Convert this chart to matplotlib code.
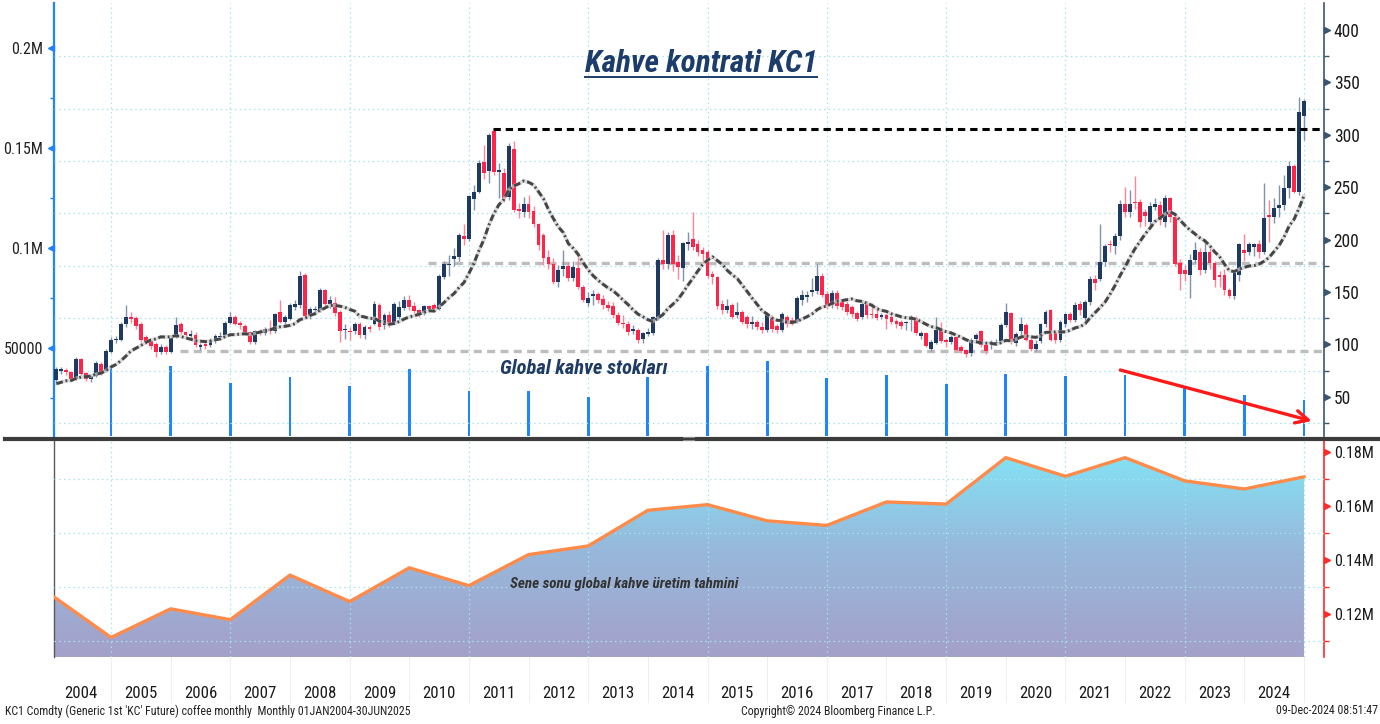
import numpy as np
import pandas as pd
import matplotlib
matplotlib.use("Agg")
import matplotlib.pyplot as plt
from matplotlib import font_manager as fm
from matplotlib.lines import Line2D
from matplotlib.colors import LinearSegmentedColormap
from matplotlib.ticker import FixedLocator, FuncFormatter
import matplotlib.transforms as mtransforms

# ---------------------------------------------------------------- data
# KC1 monthly candles, Jan 2004 .. Dec 2024 (one row per year)
opens = [
    66, 75, 75.8, 74, 67, 86, 73, 66.5, 70, 81, 75, 92.7,
    103.8, 104.4, 119, 126, 125.5, 119.7, 107, 102.9, 100.6, 92.7, 97.4, 92.7,
    107, 119.7, 111.8, 108, 108.6, 97.4, 100.6, 99, 102.9, 106.7, 108.6, 120.4,
    126.1, 120.4, 117.5, 111.8, 102.2, 113, 110.5, 115, 112.6, 130.8, 121, 124.5,
    136, 137.2, 165.9, 127, 132.4, 133.1, 151.6, 138.8, 139.5, 130.8, 113.5, 112.6,
    112.6, 119.7, 108.5, 116, 119.7, 137.2, 118.1, 128.3, 120.3, 126.1, 135, 142.6,
    136.3, 132.4, 129.9, 136.3, 137.2, 134, 164.3, 175.5, 181.8, 183.4, 203.2, 200.9,
    238.3, 245.6, 274.3, 265.3, 304, 264.7, 263.1, 240.2, 286, 229.6, 226.5, 234.4,
    227.4, 214.7, 204.2, 183.4, 176.4, 159.5, 172.3, 174.8, 163.7, 172.9, 154.8, 139.5,
    145.8, 147.7, 143.6, 137.2, 136.3, 127.7, 120.3, 119.7, 112.6, 114, 105.3, 110.1,
    110.8, 124.5, 180.3, 177.1, 204.2, 178.7, 172.4, 196, 201, 195.3, 189.9, 187.7,
    166.9, 163.8, 138.3, 132.5, 137.3, 128, 131, 126.2, 119.5, 121.4, 117, 113.4,
    126.2, 117.2, 113.4, 126.2, 123.6, 121.4, 142.7, 145.3, 150.1, 151, 165, 148.5,
    137.3, 149.1, 140.5, 138.9, 135.7, 130, 126.2, 138.9, 129.3, 128.6, 126.5, 127.7,
    126.1, 122.3, 121.4, 120, 123, 125.5, 107.6, 110.8, 95.9, 101.3, 113.4, 103,
    102.2, 107, 97.4, 94.3, 91.7, 105.4, 112.7, 99, 100.5, 101, 103.2, 118.2,
    130, 101.3, 112.7, 118.2, 104.5, 95.9, 103.2, 119.1, 132.5, 110.8, 103.8, 119.8,
    128.7, 123, 138.3, 125.5, 140.5, 162.8, 162, 178.7, 195.6, 193.7, 203.5, 233.8,
    226.5, 236, 236, 226.5, 217, 231, 232.8, 217, 239.2, 221.7, 177.7, 171.3,
    165.9, 180.9, 188.2, 170.7, 188.2, 177.7, 165.9, 165.9, 151.6, 145.9, 165.9, 189.8,
    188.2, 193, 196.2, 188.2, 223.3, 221.7, 229.7, 232.8, 248.8, 270.1, 245.6, 318,
]
highs = [
    78, 78, 77, 75, 88, 87, 74, 71, 84, 83, 96, 107,
    108, 121, 138, 131, 127, 121, 109, 104, 102, 100, 99, 108,
    126, 121, 113, 114, 112, 101, 102, 106, 110, 112, 122, 131,
    128, 122, 119, 113, 114, 115, 117, 123, 130, 142, 128, 139,
    142, 170, 168, 136, 137, 154, 153, 146, 145, 133, 119, 117,
    121, 121, 118, 118, 141, 139, 130, 132, 140, 141, 146, 147,
    140, 134, 138, 138, 139, 167, 180, 185, 192, 206, 215, 243,
    252, 276, 290, 302, 306, 273, 268, 292, 294, 235, 241, 243,
    232, 216, 206, 190, 182, 176, 190, 179, 180, 188, 157, 150,
    152, 150, 147, 141, 140, 131, 128, 122, 118, 116, 112, 116,
    127, 182, 209, 207, 209, 185, 198, 207, 226, 200, 193, 190,
    170, 165, 142, 143, 139, 140, 133, 128, 127, 123, 121, 129,
    128, 119, 131, 128, 126, 146, 152, 151, 163, 177, 168, 151,
    152, 152, 143, 141, 138, 132, 141, 141, 139, 137, 130, 130,
    128, 124, 123, 122, 128, 127, 113, 112, 104, 126, 121, 106,
    109, 108, 99, 96, 106, 111, 114, 101, 104, 105, 120, 139,
    131, 112, 126, 120, 107, 104, 120, 133, 134, 113, 123, 130,
    131, 140, 141, 142, 165, 166, 215, 196, 200, 206, 238, 250,
    247, 261, 239, 229, 236, 240, 237, 243, 241, 224, 181, 176,
    186, 198, 192, 201, 192, 180, 170, 172, 154, 170, 197, 205,
    198, 197, 200, 254, 238, 240, 252, 262, 275, 272, 336, 334,
]
lows = [
    64, 72, 71, 65, 66, 71, 65, 64, 69, 71, 74, 92,
    101, 103, 117, 120, 115, 102, 100, 96, 88, 91, 91, 92,
    106, 110, 106, 106, 97, 95, 96, 97, 101, 104, 107, 119,
    118, 115, 109, 100, 100, 109, 109, 110, 111, 120, 118, 123,
    133, 135, 124, 124, 128, 131, 136, 135, 127, 102, 105, 104,
    110, 106, 105, 112, 118, 114, 115, 117, 119, 124, 133, 133,
    130, 126, 128, 131, 131, 133, 162, 165, 175, 180, 195, 199,
    228, 244, 258, 254, 262, 240, 236, 238, 226, 221, 222, 221,
    212, 190, 176, 172, 158, 155, 165, 160, 160, 153, 140, 137,
    138, 139, 134, 132, 125, 118, 116, 109, 110, 101, 101, 108,
    109, 123, 172, 172, 170, 162, 160, 190, 190, 184, 178, 163,
    158, 134, 129, 130, 124, 125, 119, 116, 115, 114, 111, 112,
    112, 111, 112, 117, 118, 120, 138, 140, 146, 148, 145, 134,
    135, 134, 133, 128, 126, 122, 124, 125, 125, 123, 124, 115,
    119, 116, 115, 114, 113, 109, 105, 97, 94, 100, 101, 97,
    100, 93, 92, 88, 89, 103, 97, 91, 96, 99, 101, 117,
    100, 98, 107, 103, 94, 94, 101, 117, 103, 101, 102, 117,
    121, 121, 128, 123, 138, 152, 160, 175, 188, 186, 200, 222,
    222, 229, 212, 213, 213, 228, 214, 212, 217, 175, 152, 160,
    144, 178, 166, 168, 172, 155, 155, 147, 144, 143, 160, 180,
    185, 184, 182, 186, 198, 216, 222, 228, 240, 244, 243, 295,
]
closes = [
    76.5, 75.8, 73.5, 66.5, 86.3, 72, 67, 69.5, 82, 72.6, 94, 104.4,
    105.4, 119.7, 126, 124.5, 117.2, 103.8, 102.2, 98.1, 92.7, 97.4, 92.7, 106.4,
    118.2, 111.8, 108.6, 109.5, 99, 99, 98, 103.8, 107.6, 107.9, 120.4, 126.1,
    119.7, 118.2, 111.8, 102.2, 113, 111.5, 115, 112.6, 128.6, 121.3, 126, 137.2,
    138.8, 165, 126.7, 134, 134, 151.6, 138.8, 142.6, 129.9, 112.6, 114, 111.7,
    119.7, 108.5, 116.5, 114.9, 138.2, 116.5, 127.7, 119.7, 138.8, 135.6, 142.6, 135.6,
    131.8, 128.6, 136.3, 134, 133.4, 165, 177.1, 177, 184, 204.2, 200.6, 241.4,
    245.6, 272.7, 263.1, 299.8, 264.7, 266, 239.2, 289.2, 228, 227.4, 234.4, 226.5,
    215.3, 194.6, 182.8, 176.4, 159.5, 170.7, 174.8, 163.7, 173.9, 154.8, 142, 144.6,
    147.7, 142, 137.2, 135, 127.7, 120.3, 119, 111.7, 114.9, 104.4, 110.8, 111.7,
    126.1, 180.3, 177.1, 204.2, 177.1, 174, 196.3, 196.7, 193.1, 188.3, 186.1, 165,
    163.8, 136.4, 132.5, 136.4, 126.2, 131, 121.4, 119.8, 121.4, 117, 113.4, 127.8,
    115, 113.4, 129.3, 119.8, 120.4, 144.6, 146.9, 146.9, 151.7, 165, 146.9, 136.4,
    149.1, 136.4, 135.7, 131, 129.3, 124.6, 138.9, 127.8, 127.7, 125.5, 127, 124.5,
    121.3, 119.8, 117.2, 120.4, 125.5, 110.8, 110.8, 98.1, 102.2, 113.4, 102.9, 102.5,
    107, 94.9, 93.6, 91.1, 104.5, 108.6, 99, 93.6, 101.3, 102.2, 118.8, 130.9,
    102.2, 110.2, 119.8, 104.5, 95.9, 100.6, 119.1, 130.9, 104.5, 103.8, 121.4, 128.7,
    123, 137.3, 133.1, 140.5, 162.8, 158.6, 178.7, 193.7, 194.6, 203.5, 233.8, 226.5,
    234.4, 234.8, 217, 222.3, 231.9, 234.4, 218.5, 239.2, 221.7, 177, 167.5, 166.9,
    180.9, 190.5, 170.7, 188.2, 177.7, 161.1, 164.3, 152.2, 145.9, 168.1, 195.6, 187.6,
    195.6, 195.6, 188.2, 221, 221.7, 229.7, 232.8, 248.8, 270.1, 245.6, 322.1, 332.6,
]
# closes of 2003, only used to warm up the 12-month moving average
ma_warmup_2003 = [64.5, 59, 56.5, 63, 61.5, 58, 62, 62.5, 60.5, 61, 63.5, 65]
ma_window = 12

# global coffee stocks (year end), left axis
stock_years = list(range(2004, 2025))
stocks = [40000, 41000, 32500, 35500, 31000, 39500, 28500, 28500, 25500, 35500,
          41000, 43500, 35000, 36500, 32000, 37000, 36000, 36500, 30500, 26500, 24000]

# year-end global production estimate (lower panel)
prod_years = list(range(2004, 2026))
production = [127000, 111300, 121900, 117900, 134400, 124600, 137100, 130500,
              142000, 145200, 158400, 160500, 154500, 152800, 161500, 160700,
              177900, 171000, 177900, 169300, 166300, 170800]

resistance_level = 305.3
support_low = 93.3
support_mid = 177.4

year_labels = [str(y) for y in range(2004, 2025)]

# ---------------------------------------------------------------- fonts
names = {f.name for f in fm.fontManager.ttflist}
if "Liberation Sans Narrow" in names:
    FONT, S = "Liberation Sans Narrow", 1.18
elif "Roboto Condensed" in names:
    FONT, S = "Roboto Condensed", 1.15
else:
    FONT, S = "Roboto", 1.0
plt.rcParams["font.family"] = [FONT, "DejaVu Sans"]

SZ_LEFT = 10.0 * S
SZ_RIGHT = 11.0 * S
SZ_BOT = 10.0 * S
SZ_YEAR = 10.5 * S
SZ_FOOT = 7.45 * S
SZ_TITLE = 19.6 * S
SZ_STOCK = 12.8 * S
SZ_PROD = 9.5 * S

NAVY = "#1D3A63"
RED = "#FF2548"
NAVY_WICK = "#7F93AD"
RED_WICK = "#FF8498"
BLUE = "#1E84FF"
SLATE = "#3A5572"
GRID = "#A6E4EC"
GRID_LS = (0, (1.2, 2.6))

PXW, PXH = 1380, 724
fig = plt.figure(figsize=(PXW / 100, PXH / 100), dpi=100)
fig.patch.set_facecolor("white")


def rect(x0, y0, x1, y1):
    return [x0 / PXW, 1 - y1 / PXH, (x1 - x0) / PXW, (y1 - y0) / PXH]


XMIN, XMAX = 2004.044, 2025.335

# ---------------------------------------------------------------- top panel
ax_s = fig.add_axes(rect(54, 3, 1324, 436))
ax_p = ax_s.twinx()

ax_s.set_xlim(XMIN, XMAX)
ax_s.set_ylim(6000, 222500)
ax_s.set_axisbelow(True)
ax_s.bar(np.array(stock_years) + 1.0, stocks, width=0.047, color=BLUE, zorder=2, linewidth=0)


def fmt_left(v, pos):
    return f"{v / 1e6:g}M" if v >= 100000 else f"{int(v)}"


ax_s.yaxis.set_major_locator(FixedLocator([50000, 100000, 150000, 200000]))
ax_s.yaxis.set_minor_locator(FixedLocator([25000, 75000, 125000, 175000]))
ax_s.yaxis.set_major_formatter(FuncFormatter(fmt_left))
ax_s.tick_params(axis="y", which="major", length=0, pad=8, labelsize=SZ_LEFT, labelcolor="#222222")
ax_s.tick_params(axis="y", which="minor", length=3, width=1, color=BLUE)
ax_s.set_xticks(list(range(2005, 2026, 2)))
ax_s.tick_params(axis="x", which="both", length=0, labelbottom=False)
ax_s.grid(axis="x", which="major", color=GRID, ls=GRID_LS, lw=0.9)
for sp in ["top", "right", "bottom"]:
    ax_s.spines[sp].set_visible(False)
ax_s.spines["left"].set_color(BLUE)
ax_s.spines["left"].set_linewidth(1.6)
tr_l = mtransforms.blended_transform_factory(ax_s.transAxes, ax_s.transData)
ax_s.plot([-0.0022] * 4, [50000, 100000, 150000, 200000], ls="none", marker="<", ms=5,
          color=BLUE, transform=tr_l, clip_on=False, zorder=5)

ax_p.set_xlim(XMIN, XMAX)
ax_p.set_ylim(12.5, 425.8)
ax_p.set_axisbelow(True)
ax_p.yaxis.set_major_locator(FixedLocator(list(range(50, 401, 50))))
ax_p.yaxis.set_minor_locator(FixedLocator(list(range(25, 401, 50))))
ax_p.tick_params(axis="y", which="major", length=0, pad=7, labelsize=SZ_RIGHT, labelcolor="#1a1a1a")
ax_p.tick_params(axis="y", which="minor", length=3.5, width=1, color=SLATE)
ax_p.grid(axis="y", which="minor", color=GRID, ls=GRID_LS, lw=0.9)
for sp in ["top", "left", "bottom"]:
    ax_p.spines[sp].set_visible(False)
ax_p.spines["right"].set_color(SLATE)
ax_p.spines["right"].set_linewidth(1.2)
tr_r = mtransforms.blended_transform_factory(ax_p.transAxes, ax_p.transData)
ax_p.plot([1.0022] * 8, list(range(50, 401, 50)), ls="none", marker=">", ms=5,
          color=SLATE, transform=tr_r, clip_on=False, zorder=5)

# candles
o = np.array(opens, float)
h = np.array(highs, float)
l = np.array(lows, float)
c = np.array(closes, float)
t = 2004 + (np.arange(len(c)) + 1) / 12.0
up = c >= o
ax_p.vlines(t, l, h, colors=np.where(up, NAVY_WICK, RED_WICK), lw=1.0, zorder=2.5)
ax_p.bar(t, np.maximum(np.abs(c - o), 1.3), bottom=np.minimum(o, c), width=0.064,
         color=np.where(up, NAVY, RED), linewidth=0, zorder=3)

# moving average
allc = np.array(ma_warmup_2003 + closes, float)
ma = pd.Series(allc).rolling(ma_window).mean().to_numpy()[len(ma_warmup_2003):]
ax_p.plot(t, ma, color="#C9C9C9", lw=2.6, alpha=0.7, zorder=3.5, solid_capstyle="round")
ax_p.plot(t, ma, color="#454545", lw=2.1, ls=(0, (2.3, 1.0, 0.6, 1.0)), zorder=3.6)

# horizontal levels
ax_p.plot([2011.40, 2025.3], [resistance_level] * 2, color="black", lw=2.2,
          ls=(0, (2.4, 1.6)), zorder=4)
ax_p.plot([2010.31, 2025.3], [support_mid] * 2, color="#BDBDBD", lw=2.4,
          ls=(0, (2.4, 1.6)), zorder=2)
ax_p.plot([2006.16, 2025.3], [support_low] * 2, color="#BDBDBD", lw=2.4,
          ls=(0, (2.4, 1.6)), zorder=2)

# red trend arrow over the stocks
ax_p.annotate("", xy=(2025.13, 26.8), xytext=(2021.92, 75.5),
              arrowprops=dict(arrowstyle="->,head_length=0.9,head_width=0.45",
                              color="#FF1A1A", lw=2.4, shrinkA=0, shrinkB=0),
              annotation_clip=False, zorder=6)

# ---------------------------------------------------------------- bottom panel
ax_b = fig.add_axes(rect(54, 441, 1324, 657))
YLO, YHI = 104070, 184070
px = np.array(prod_years, float)
py = np.array(production, float)

cmap = LinearSegmentedColormap.from_list("g", ["#A4A0CA", "#97B9DB", "#80E8F8"])
grad = np.linspace(0, 1, 256).reshape(-1, 1)
im = ax_b.imshow(grad, cmap=cmap, origin="lower", aspect="auto",
                 extent=[XMIN, XMAX, YLO, YHI], zorder=1)
poly = ax_b.fill_between(px, py, YLO - 5000, facecolor="none", edgecolor="none")
im.set_clip_path(poly.get_paths()[0], transform=ax_b.transData)
ax_b.plot(px, py, color="#FF8B4B", lw=2.4, zorder=4, solid_joinstyle="round")
ax_b.set_xlim(XMIN, XMAX)
ax_b.set_ylim(YLO, YHI)

ax_b.yaxis.tick_right()
ax_b.yaxis.set_major_locator(FixedLocator([120000, 140000, 160000, 180000]))
ax_b.yaxis.set_minor_locator(FixedLocator([110000, 130000, 150000, 170000]))
ax_b.yaxis.set_major_formatter(FuncFormatter(lambda v, p: f"{v / 1e6:.2f}M"))
ax_b.tick_params(axis="y", which="major", length=0, pad=7, labelsize=SZ_BOT, labelcolor="#1a1a1a")
ax_b.tick_params(axis="y", which="minor", length=3.5, width=1, color="#FF2A2A")
ax_b.grid(axis="y", which="minor", color=GRID, ls=GRID_LS, lw=0.9, zorder=2)

ax_b.set_xticks([y + 0.5 for y in range(2004, 2025)])
ax_b.set_xticklabels(year_labels)
ax_b.xaxis.set_minor_locator(FixedLocator(list(range(2005, 2026, 2))))
ax_b.tick_params(axis="x", which="both", length=0, pad=21, labelsize=SZ_YEAR, labelcolor="#1a1a1a")
ax_b.grid(axis="x", which="minor", color=GRID, ls=GRID_LS, lw=0.9, zorder=2)
ax_b.set_axisbelow(False)
for sp in ["top", "bottom"]:
    ax_b.spines[sp].set_visible(False)
ax_b.spines["left"].set_color("#5A5A5A")
ax_b.spines["left"].set_linewidth(1.0)
ax_b.spines["right"].set_color("#FF2A2A")
ax_b.spines["right"].set_linewidth(1.2)
tr_b = mtransforms.blended_transform_factory(ax_b.transAxes, ax_b.transData)
ax_b.plot([1.0022] * 4, [120000, 140000, 160000, 180000], ls="none", marker=">", ms=5,
          color="#FF2A2A", transform=tr_b, clip_on=False, zorder=5)
tr_bx = mtransforms.blended_transform_factory(ax_b.transData, ax_b.transAxes)
for yb in range(2005, 2026):
    ax_b.plot([yb, yb], [0, -0.21], color="#EFEFEF", lw=0.8, transform=tr_bx, clip_on=False)

# ---------------------------------------------------------------- figure furniture
fig.add_artist(Line2D([5 / PXW, 1.0], [1 - 438.5 / PXH] * 2, transform=fig.transFigure,
                      color="#3C3C3C", lw=3.0))
for yy in (437.3, 439.7):
    fig.add_artist(Line2D([683 / PXW, 694 / PXW], [1 - yy / PXH] * 2, transform=fig.transFigure,
                          color="#9A9A9A", lw=0.6))

title = fig.text(701 / PXW, 1 - 64 / PXH, "Kahve kontrati KC1", ha="center", va="center",
                 fontsize=SZ_TITLE, fontweight="bold", fontstyle="italic", color="#1C3D6C")
fig.text(584 / PXW, 1 - 368 / PXH, "Global kahve stokları", ha="center", va="center",
         fontsize=SZ_STOCK, fontweight="bold", fontstyle="italic", color="#1F3B63")
fig.text(624 / PXW, 1 - 584 / PXH, "Sene sonu global kahve üretim tahmini", ha="center",
         va="center", fontsize=SZ_PROD, fontweight="bold", fontstyle="italic", color="#333333")

fig.text(5 / PXW, 1 - 711 / PXH,
         "KC1 Comdty (Generic 1st 'KC' Future) coffee monthly  Monthly 01JAN2004-30JUN2025",
         ha="left", va="center", fontsize=SZ_FOOT, color="#222222")
fig.text(838 / PXW, 1 - 711 / PXH, "Copyright© 2024 Bloomberg Finance L.P.", ha="center",
         va="center", fontsize=SZ_FOOT, color="#222222")
fig.text(1378 / PXW, 1 - 711 / PXH, "09-Dec-2024 08:51:47", ha="right", va="center",
         fontsize=SZ_FOOT, color="#222222")

fig.canvas.draw()
bb = title.get_window_extent()
fig.add_artist(Line2D([bb.x0 / PXW, bb.x1 / PXW], [(bb.y0 + 2) / PXH] * 2,
                      transform=fig.transFigure, color="#1C3D6C", lw=1.4))

fig.savefig("out.png", dpi=100, facecolor="white")
